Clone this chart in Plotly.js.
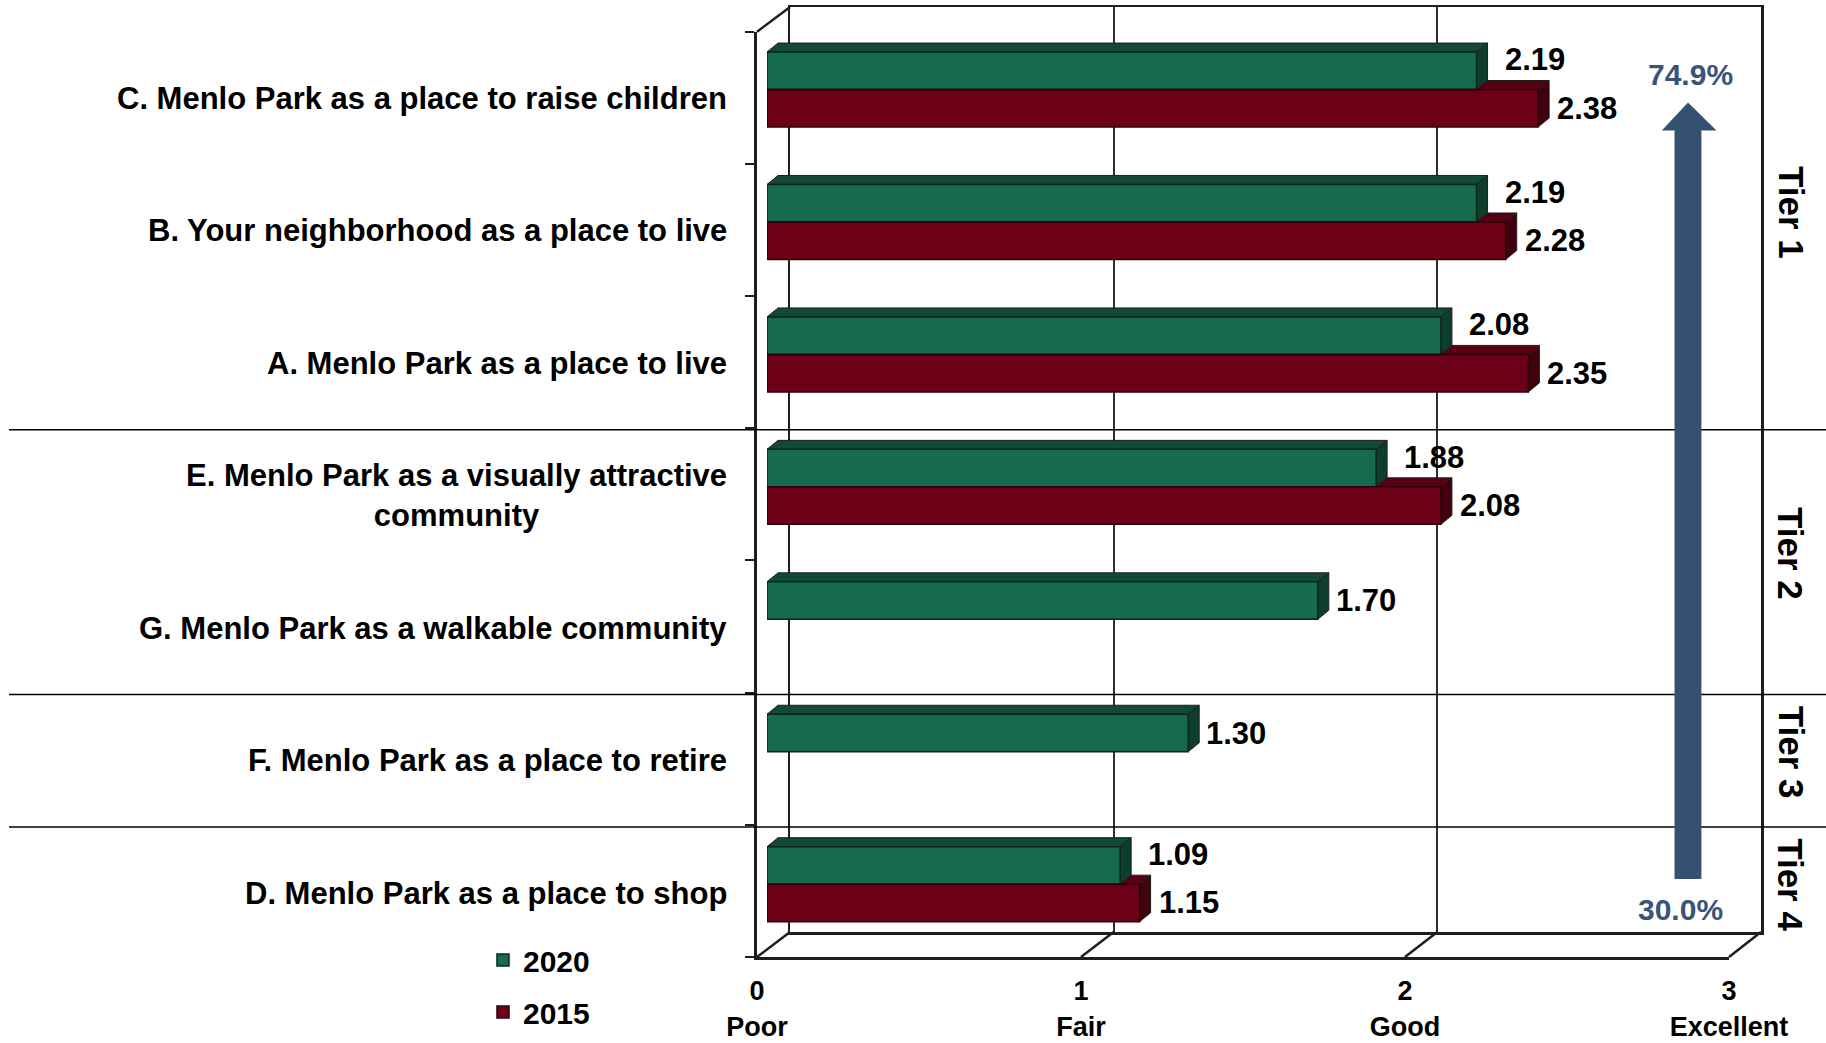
<!DOCTYPE html>
<html>
<head>
<meta charset="utf-8">
<script src="https://cdn.plot.ly/plotly-3.0.1.min.js"></script>
<style>
  html, body { margin: 0; padding: 0; background: #ffffff; }
  #chart { width: 1826px; height: 1043px; }
</style>
</head>
<body>
<div id="chart"></div>
<script>
// ---------- data ----------
const categories = [
  "C. Menlo Park as a place to raise children",
  "B. Your neighborhood as a place to live",
  "A. Menlo Park as a place to live",
  "E. Menlo Park as a visually attractive<br>community",
  "G. Menlo Park as a walkable community",
  "F. Menlo Park as a place to retire",
  "D. Menlo Park as a place to shop"
];
const seriesNames = ["2020", "2015"];
const values2020 = [2.19, 2.19, 2.08, 1.88, 1.70, 1.30, 1.09];
const values2015 = [2.38, 2.28, 2.35, 2.08, null, null, 1.15];
const tierOf = [1, 1, 1, 2, 2, 3, 4];
const tierLabels = ["Tier 1", "Tier 2", "Tier 3", "Tier 4"];
const scaleValues = [0, 1, 2, 3];
const scaleLabels = ["Poor", "Fair", "Good", "Excellent"];
const arrowLabels = ["74.9%", "30.0%"];

// ---------- geometry / style ----------
const W = 1826, H = 1043;
const px = x => x / W;
const py = y => 1 - y / H;
const FONT = "Liberation Sans, Arial, sans-serif";
const GREEN = "#166a4e", GREEN_TOP = "#124a37", GREEN_SIDE = "#0d3d2c", GREEN_EDGE = "#0a261b";
const RED = "#6c0017", RED_TOP = "#560012", RED_SIDE = "#40000d", RED_EDGE = "#2a0008";
const LINE = "#1e1e1e";
const ARROW = "#36506f";

const backX = [790, 1761], backY = [7, 932];
const barX = [767, 1739], barY = [23.3, 950.4];
const frontX = [757, 1729], frontY = [31.7, 957];
const xMax = scaleValues[scaleValues.length - 1];
const nCat = categories.length;

const bargap = 0.434;
const w = (1 - bargap) / 2;
const pxPerX = (barX[1] - barX[0]) / xMax;
const pxPerY = (barY[1] - barY[0]) / nCat;
const DX = 11 / pxPerX, DY = 9 / pxPerY;
const idx = categories.map((_, i) => i);

const fX = v => px(frontX[0] + (frontX[1] - frontX[0]) * v / xMax);
const bX = v => px(backX[0] + (backX[1] - backX[0]) * v / xMax);

// ---------- traces ----------
// empty helper traces so that the back-wall and floor axes get drawn
const helperBack = {
  type: "scatter", mode: "none", x: [scaleValues[0]], y: [0],
  xaxis: "x", yaxis: "y", showlegend: false, hoverinfo: "skip"
};
const helperFront = {
  type: "scatter", mode: "none", x: [scaleValues[0]], y: [0],
  xaxis: "x3", yaxis: "y3", showlegend: false, hoverinfo: "skip"
};
const data = [
  helperBack,
  {
    type: "bar", orientation: "h", name: seriesNames[0],
    x: values2020, y: idx, xaxis: "x2", yaxis: "y2",
    marker: { color: GREEN, line: { color: GREEN_EDGE, width: 1.5 } },
    legendgroup: "a", hoverinfo: "x"
  },
  {
    type: "bar", orientation: "h", name: seriesNames[1],
    x: values2015, y: idx, xaxis: "x2", yaxis: "y2",
    marker: { color: RED, line: { color: RED_EDGE, width: 1.5 } },
    legendgroup: "b", hoverinfo: "x"
  },
  helperFront
];

// ---------- shapes ----------
const shapes = [];
function faces(vals, s, top, side) {
  vals.forEach((v, i) => {
    if (v === null) return;
    const t = s === 0 ? i - w : i;
    const b = t + w;
    shapes.push({
      type: "path", xref: "x2", yref: "y2", layer: "below",
      path: `M0,${t} L${v},${t} L${v + DX},${t - DY} L${DX},${t - DY} Z`,
      fillcolor: top, line: { color: LINE, width: 1 }
    });
    shapes.push({
      type: "path", xref: "x2", yref: "y2", layer: "below",
      path: `M${v},${t} L${v + DX},${t - DY} L${v + DX},${b - DY} L${v},${b} Z`,
      fillcolor: side, line: { color: LINE, width: 1 }
    });
  });
}
faces(values2015, 1, RED_TOP, RED_SIDE);
faces(values2020, 0, GREEN_TOP, GREEN_SIDE);

// floor diagonals
scaleValues.forEach(v => {
  shapes.push({
    type: "line", xref: "paper", yref: "paper",
    x0: fX(v), y0: py(frontY[1]), x1: bX(v), y1: py(backY[1]),
    line: { color: LINE, width: 2.5 }
  });
});
// top-left wall diagonal
shapes.push({
  type: "line", xref: "paper", yref: "paper",
  x0: fX(0), y0: py(frontY[0]), x1: bX(0), y1: py(backY[0]),
  line: { color: LINE, width: 2.5 }
});

// tier separators
const sepOffset = 9 / pxPerY;
for (let i = 1; i < nCat; i++) {
  if (tierOf[i] !== tierOf[i - 1]) {
    const yb = i - 0.5 + sepOffset;
    shapes.push({
      type: "line", xref: "paper", yref: "y2",
      x0: px(9), x1: 1, y0: yb, y1: yb,
      line: { color: "#000000", width: 1.5 }, layer: "above"
    });
  }
}

// big arrow
const ax0 = px(1674.5), ax1 = px(1701.4), ah0 = px(1661.8), ah1 = px(1716.5), axm = px(1688);
const ayTip = py(102.5), ayBase = py(130.4), ayBot = py(879);
shapes.push({
  type: "path", xref: "paper", yref: "paper",
  path: `M${ax0},${ayBot} L${ax0},${ayBase} L${ah0},${ayBase} L${axm},${ayTip} L${ah1},${ayBase} L${ax1},${ayBase} L${ax1},${ayBot} Z`,
  fillcolor: ARROW, line: { width: 0 }
});

// ---------- annotations ----------
const annotations = [];
categories.forEach((c, i) => {
  annotations.push({
    text: c, xref: "paper", x: px(729), xanchor: "right",
    yref: "y2", y: i, yanchor: "middle", yshift: -9,
    align: "center", showarrow: false,
    font: { family: FONT, size: 31, color: "#000", weight: "bold" }
  });
});
values2020.forEach((v, i) => {
  if (v === null) return;
  const paired = values2015[i] !== null;
  annotations.push({
    text: v.toFixed(2), xref: "x2", x: v, xanchor: "left", xshift: paired ? 26 : 16,
    yref: "y2", y: i - w / 2, yanchor: "middle", yshift: paired ? 11 : 0,
    showarrow: false, font: { family: FONT, size: 31, color: "#000", weight: "bold" }
  });
});
values2015.forEach((v, i) => {
  if (v === null) return;
  annotations.push({
    text: v.toFixed(2), xref: "x2", x: v, xanchor: "left", xshift: 17,
    yref: "y2", y: i + w / 2, yanchor: "middle",
    showarrow: false, font: { family: FONT, size: 31, color: "#000", weight: "bold" }
  });
});
tierLabels.forEach((t, k) => {
  const members = idx.filter(i => tierOf[i] === k + 1);
  const yc = (members[0] + members[members.length - 1]) / 2;
  annotations.push({
    text: t, xref: "paper", x: px(1791), xanchor: "center",
    yref: "y2", y: yc, yanchor: "middle", yshift: k === 0 ? 10 : 0,
    textangle: 90, showarrow: false,
    font: { family: FONT, size: 35, color: "#000", weight: "bold" }
  });
});
annotations.push({
  text: arrowLabels[0], xref: "paper", x: px(1690), yref: "paper", y: py(74.5),
  xanchor: "center", yanchor: "middle", showarrow: false,
  font: { family: FONT, size: 30, color: "#3a5379", weight: "bold" }
});
annotations.push({
  text: arrowLabels[1], xref: "paper", x: px(1680), yref: "paper", y: py(909.5),
  xanchor: "center", yanchor: "middle", showarrow: false,
  font: { family: FONT, size: 30, color: "#3a5379", weight: "bold" }
});

// ---------- layout ----------
const layout = {
  width: W, height: H, autosize: false,
  margin: { l: 0, r: 0, t: 0, b: 0, pad: 0 },
  paper_bgcolor: "#ffffff", plot_bgcolor: "rgba(0,0,0,0)",
  barmode: "group", bargap: bargap, bargroupgap: 0,
  showlegend: true,
  legend: {
    x: px(483), xanchor: "left", y: py(934), yanchor: "top",
    traceorder: "grouped", tracegroupgap: 10,
    bgcolor: "rgba(0,0,0,0)",
    font: { family: FONT, size: 30, color: "#000", weight: "bold" }
  },
  // back wall
  xaxis: {
    domain: [px(backX[0]), px(backX[1])], anchor: "y", range: [0, xMax],
    tickvals: scaleValues, showticklabels: false, ticks: "",
    showgrid: true, gridcolor: "#2e2e2e", gridwidth: 2,
    showline: true, mirror: true, linecolor: LINE, linewidth: 2.5, zeroline: false,
    fixedrange: true
  },
  yaxis: {
    domain: [py(backY[1]), py(backY[0])], anchor: "x", range: [0, 1],
    showticklabels: false, ticks: "", showgrid: false,
    showline: true, mirror: true, linecolor: LINE, linewidth: 2.5, zeroline: false,
    fixedrange: true
  },
  // bars
  xaxis2: {
    domain: [px(barX[0]), px(barX[1])], anchor: "y2", range: [0, xMax],
    showticklabels: false, ticks: "", showgrid: false, showline: false, zeroline: false,
    fixedrange: true
  },
  yaxis2: {
    domain: [py(barY[1]), py(barY[0])], anchor: "x2", range: [nCat - 0.5, -0.5],
    showticklabels: false, ticks: "", showgrid: false, showline: false, zeroline: false,
    fixedrange: true
  },
  // front floor + left wall
  xaxis3: {
    domain: [px(frontX[0]), px(frontX[1])], anchor: "y3", range: [0, xMax],
    tickvals: scaleValues,
    ticktext: scaleValues.map((v, i) => v + "<br>" + scaleLabels[i]),
    ticks: "", ticklabelstandoff: 8,
    tickfont: { family: FONT, size: 27, color: "#000", weight: "bold" },
    showgrid: false, zeroline: false,
    showline: true, linecolor: LINE, linewidth: 3, fixedrange: true
  },
  yaxis3: {
    domain: [py(frontY[1]), py(frontY[0])], anchor: "x3", range: [0, nCat],
    tickvals: idx.concat([nCat]), showticklabels: false,
    ticks: "outside", ticklen: 9, tickwidth: 2, tickcolor: LINE,
    showgrid: false, zeroline: false,
    showline: true, linecolor: LINE, linewidth: 3, fixedrange: true
  },
  shapes: shapes,
  annotations: annotations
};

Plotly.newPlot("chart", data, layout, { displayModeBar: false, staticPlot: true });
</script>
</body>
</html>
